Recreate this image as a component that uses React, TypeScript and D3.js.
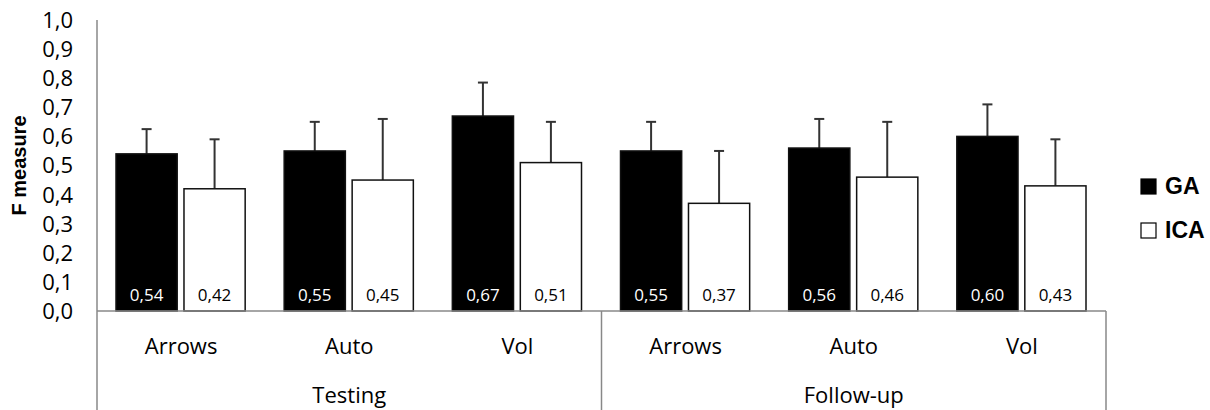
import React from 'react'
import * as d3 from 'd3'

const groups = ['Testing', 'Follow-up']
const conditions = ['Arrows', 'Auto', 'Vol']
const series = ['GA', 'ICA']
const gaValues = [0.54, 0.55, 0.67, 0.55, 0.56, 0.60]
const icaValues = [0.42, 0.45, 0.51, 0.37, 0.46, 0.43]
const gaErrors = [0.085, 0.10, 0.115, 0.10, 0.10, 0.11]
const icaErrors = [0.17, 0.21, 0.14, 0.18, 0.19, 0.16]
const yTicks = [0, 0.1, 0.2, 0.3, 0.4, 0.5, 0.6, 0.7, 0.8, 0.9, 1.0]

const W = 1210
const H = 410
const margin = { top: 20, left: 97, right: 104, bottom: 99 }
const font = "'Open Sans', sans-serif"
const boldFont = "'Liberation Sans', Arial, sans-serif"

const fmt = (v: number, d: number) => v.toFixed(d).replace('.', ',')

export default function App() {
    const cats = groups.flatMap(g => conditions.map(c => `${g}|${c}`))
    const x = d3.scaleBand<string>()
        .domain(cats)
        .range([margin.left, W - margin.right])
    const inner = d3.scaleBand<string>()
        .domain(series)
        .range([19, x.bandwidth() - 20])
        .paddingInner(0.1)
    const y = d3.scaleLinear()
        .domain([0, 1])
        .range([H - margin.bottom, margin.top])
    const groupX = d3.scaleBand<string>()
        .domain(groups)
        .range([margin.left, W - margin.right])

    const y0 = y(0)
    const vals = [gaValues, icaValues]
    const errs = [gaErrors, icaErrors]

    return (
        <svg width={W} height={H} style={{ position: 'absolute', left: 0, top: 0, background: '#fff' }}>
            {/* y ticks */}
            {yTicks.map(t => (
                <text key={t} x={73} y={y(t)} dy="0.36em" textAnchor="end"
                    fontFamily={font} fontWeight={500} fontSize={22} fill="#000">{fmt(t, 1)}</text>
            ))}
            <text transform={`translate(26,${(y(0) + y(1)) / 2}) rotate(-90)`} textAnchor="middle"
                fontFamily={boldFont} fontWeight="bold" fontSize={20}>F measure</text>

            {/* bars */}
            {cats.map((c, i) => series.map((s, k) => {
                const v = vals[k][i]
                const e = errs[k][i]
                const bx = x(c)! + inner(s)!
                const bw = inner.bandwidth()
                const cx = bx + bw / 2
                return (
                    <g key={c + s}>
                        <line x1={cx} x2={cx} y1={y(v)} y2={y(v + e)} stroke="#333" strokeWidth={2} />
                        <line x1={cx - 5} x2={cx + 5} y1={y(v + e)} y2={y(v + e)} stroke="#333" strokeWidth={2} />
                        <rect x={bx} y={y(v)} width={bw} height={y0 - y(v)}
                            fill={k === 0 ? '#000' : '#fff'} stroke="#111" strokeWidth={1.5} />
                        <text x={cx} y={y0 - 10} textAnchor="middle" fontFamily={font} fontWeight={500} fontSize={17}
                            fill={k === 0 ? '#fff' : '#000'}>{fmt(v, 2)}</text>
                    </g>
                )
            }))}

            {/* axes */}
            <line x1={margin.left} x2={margin.left} y1={margin.top} y2={H} stroke="#888" strokeWidth={1.5} />
            <line x1={margin.left} x2={W - margin.right} y1={y0} y2={y0} stroke="#888" strokeWidth={1.5} />
            {groups.map(g => (
                <line key={g} x1={groupX(g)! + groupX.bandwidth()} x2={groupX(g)! + groupX.bandwidth()}
                    y1={y0} y2={H} stroke="#888" strokeWidth={1.5} />
            ))}
            {cats.map(c => (
                <text key={c} x={x(c)! + x.bandwidth() / 2} y={354} textAnchor="middle"
                    fontFamily={font} fontWeight={500} fontSize={22}>{c.split('|')[1]}</text>
            ))}
            {groups.map(g => (
                <text key={g} x={groupX(g)! + groupX.bandwidth() / 2} y={403} textAnchor="middle"
                    fontFamily={font} fontWeight={500} fontSize={22}>{g}</text>
            ))}

            {/* legend */}
            {series.map((s, k) => (
                <g key={s} transform={`translate(1141,${179 + k * 44})`}>
                    <rect x={0} y={0} width={15} height={15} fill={k === 0 ? '#000' : '#fff'} stroke="#000" strokeWidth={1.2} />
                    <text x={24} y={15} fontFamily={boldFont} fontWeight="bold" fontSize={23}>{s}</text>
                </g>
            ))}
        </svg>
    )
}
